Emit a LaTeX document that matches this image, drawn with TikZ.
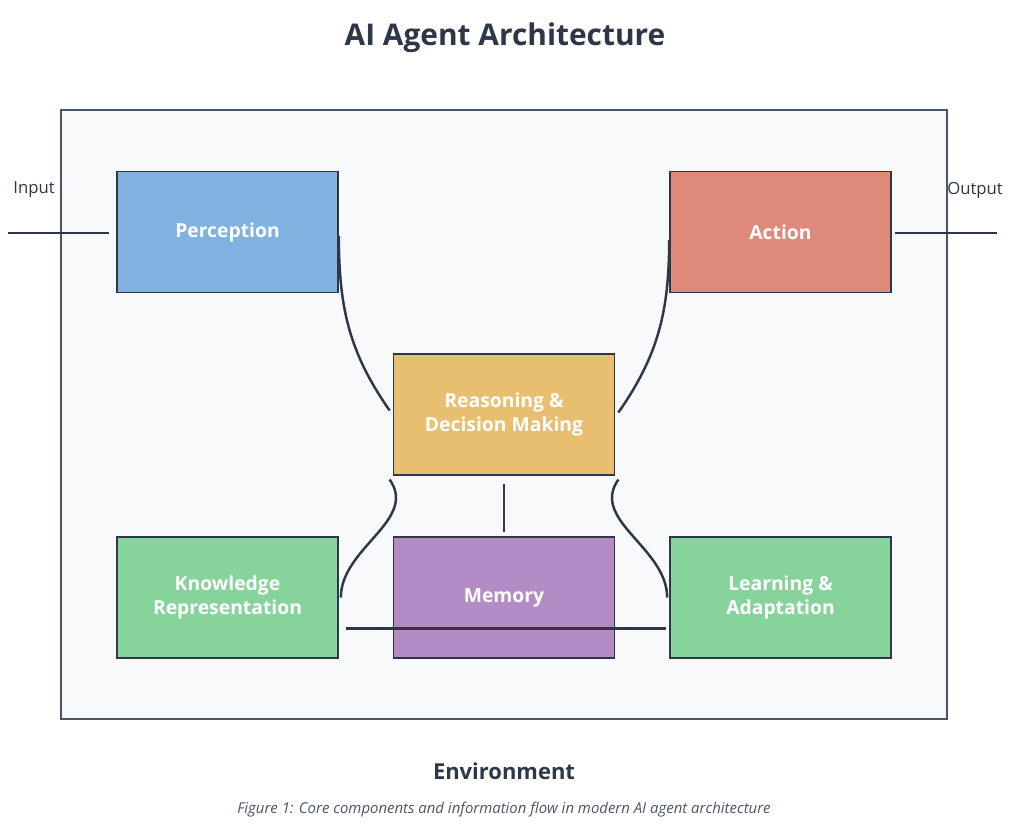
\documentclass[tikz,border=0pt]{standalone}
\usepackage{fontspec}
\setmainfont{Open Sans}
\begin{document}
\begin{tikzpicture}[x=0.02cm,y=-0.02cm,
  box/.style={draw=dk,line width=1pt,minimum width=4.42cm,minimum height=2.42cm,inner sep=0pt,text=white,font=\fontsize{11}{13.5}\selectfont\bfseries,align=center},
  conn/.style={draw=dk,line width=1.4pt}]
\definecolor{dk}{HTML}{2D3748}
\definecolor{frame}{HTML}{4A5568}
\definecolor{bgc}{HTML}{F8F9FB}
\definecolor{cblue}{HTML}{7FB2DE}
\definecolor{cred}{HTML}{DE8A7A}
\definecolor{cyel}{HTML}{E8BE70}
\definecolor{cgreen}{HTML}{86D49C}
\definecolor{cpurp}{HTML}{B38BC5}
\useasboundingbox (0,0) rectangle (1010,838);
\node[font=\fontsize{17}{20}\selectfont\bfseries,text=dk] (title) at (505,38) {AI Agent Architecture};
\draw[draw=frame,fill=bgc,line width=1.6pt] (61,110) rectangle (947,719);
\node[box,fill=cblue] (per) at (227.5,232) {Perception};
\node[box,fill=cred] (act) at (780.5,232) {Action};
\node[box,fill=cyel] (rea) at (504,414.5) {Reasoning \&\\Decision Making};
\node[box,fill=cgreen] (kno) at (227.5,597.5) {Knowledge\\Representation};
\node[box,fill=cpurp] (mem) at (504,597.5) {Memory};
\node[box,fill=cgreen] (lea) at (780.5,597.5) {Learning \&\\Adaptation};
\node[font=\fontsize{9.5}{11}\selectfont,text=dk] (inp) at (34,190) {Input};
\node[font=\fontsize{9.5}{11}\selectfont,text=dk] (outp) at (975,190) {Output};
\coordinate (ia) at (8,233);
\coordinate (oa) at (997,233);
\node[font=\fontsize{12.5}{15}\selectfont\bfseries,text=dk] (env) at (504,771) {Environment};
\node[font=\fontsize{8.5}{10}\selectfont\itshape,text=frame] (cap) at (504,810) {Figure 1: Core components and information flow in modern AI agent architecture};
\draw[conn] (ia) -- ([xshift=-0.14cm]per.west |- ia);
\draw[conn] ([xshift=0.06cm]act.east |- oa) -- (oa);
\draw[conn] ([yshift=-0.08cm]per.east) to[out=-90,in=125] ([xshift=-0.06cm,yshift=0.08cm]rea.west);
\draw[conn] ([yshift=-0.16cm]act.west) to[out=-90,in=55] ([xshift=0.06cm,yshift=0.04cm]rea.east);
\draw[conn] ([xshift=-0.06cm,yshift=-1.3cm]rea.west) to[out=-55,in=90] ([xshift=0.04cm,yshift=0cm]kno.east);
\draw[conn] ([xshift=0.06cm,yshift=-1.3cm]rea.east) to[out=-125,in=90] ([xshift=-0.04cm]lea.west);
\draw[conn] ([yshift=-0.16cm]rea.south) -- ([yshift=0.08cm]mem.north);
\draw[conn] ([xshift=0.14cm,yshift=-0.62cm]kno.east) -- ([xshift=-0.06cm,yshift=-0.62cm]lea.west);
\end{tikzpicture}
\end{document}
